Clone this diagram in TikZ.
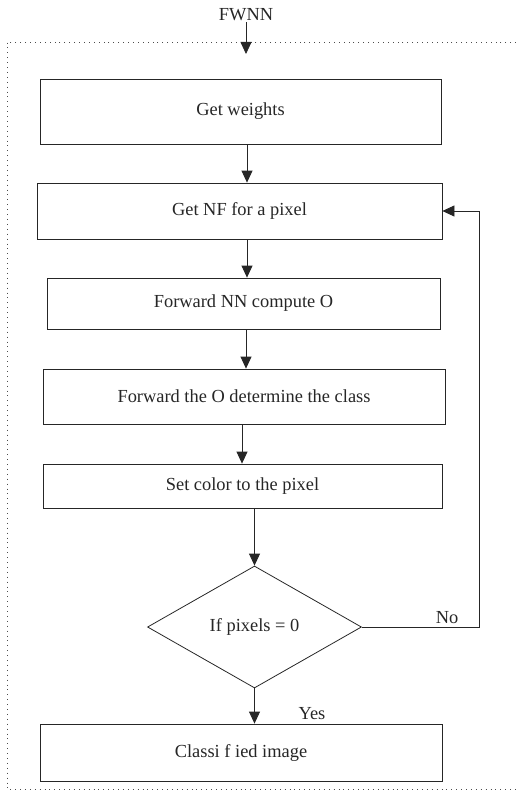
\documentclass[tikz,border=0pt]{standalone}
\usepackage{fontspec}
\setmainfont{Liberation Serif}
\usetikzlibrary{arrows.meta,shapes.geometric}

\begin{document}
\begin{tikzpicture}[
    x=1pt,
    y=-1pt,
    flowedge/.style={-{Triangle[length=12pt,width=11pt]}, line width=0.8pt, draw=black!85},
    stepbox/.style={draw=black!85, line width=0.8pt, inner sep=0pt, align=center},
    decision/.style={draw=black!85, line width=0.8pt, diamond, inner sep=0pt, minimum width=214pt, minimum height=122pt},
    framebox/.style={dash pattern=on 0.9pt off 4pt, line width=0.9pt, draw=black!70},
    edgelabel/.style={inner sep=1pt},
    every node/.style={font=\fontsize{18.4}{22}\selectfont, text=black!85}
  ]
    \useasboundingbox (0,0) rectangle (516,792);

    % outer dotted frame (open on the right)
    \draw[framebox] (516,42) -- (7,42) -- (7,789) -- (516,789);

    \node[edgelabel] (fwnn) at (246,15) {FWNN};
    \coordinate (entry) at (246,54);

    \node[stepbox, minimum width=401pt, minimum height=65pt] (w) at (240.5,111.5) {Get weights};
    \node[stepbox, minimum width=405pt, minimum height=56pt] (nf) at (239.5,211) {Get NF for a pixel};
    \node[stepbox, minimum width=393pt, minimum height=51pt] (fw) at (243.5,303.5) {Forward NN compute O};
    \node[stepbox, minimum width=402pt, minimum height=55pt] (cls) at (244,396.5) {Forward the O determine the class};
    \node[stepbox, minimum width=399pt, minimum height=44pt] (col) at (242.5,486) {Set color to the pixel};
    \node[decision] (dec) at (254.5,627) {If pixels = 0};
    \node[stepbox, minimum width=402pt, minimum height=57pt] (out) at (241,752.5) {Classi f ied image};

    \node[edgelabel] (no) at (447,618) {No};
    \node[edgelabel] (yes) at (312,714) {Yes};
    \coordinate (back) at (479,627);

    \draw[flowedge] (fwnn.south) -- (entry);
    \foreach \a/\b/\s in {w/nf/6.5, nf/fw/7.5, fw/cls/2.5, cls/col/-2} {
      \draw[flowedge] ([xshift=\s pt]\a.south) -- ([xshift=\s pt]\a.south |- \b.north);
    }
    \draw[flowedge] (col.south -| dec.north) -- (dec.north);
    \draw[flowedge] (dec.south) -- (dec.south |- out.north);
    \draw[flowedge] (dec.east) -- (back) |- (nf.east);
  \end{tikzpicture}
\end{document}
